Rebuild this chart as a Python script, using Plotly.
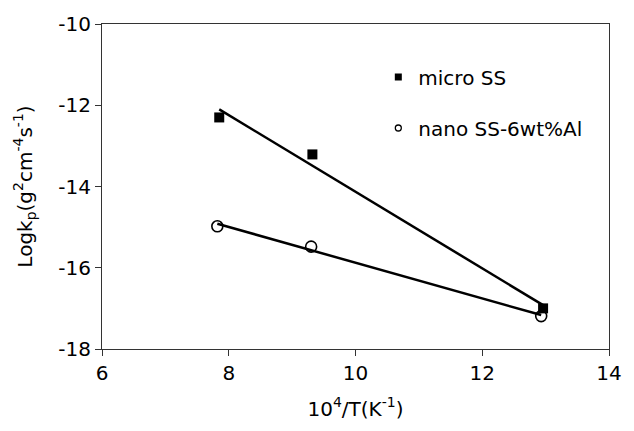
import numpy as np
import plotly.graph_objects as go

# Parabolic rate constants vs. inverse temperature
micro_x = [7.85, 9.32, 12.96]
micro_y = [-12.30, -13.21, -17.00]
nano_x = [7.82, 9.30, 12.93]
nano_y = [-14.98, -15.48, -17.19]

x_ticks = [6, 8, 10, 12, 14]
y_ticks = [-18, -16, -14, -12, -10]

FONT = "DejaVu Sans"


def fit_line(xs, ys):
    slope, icpt = np.polyfit(xs, ys, 1)
    xe = np.array([min(xs), max(xs)])
    return xe, slope * xe + icpt


fig = go.Figure()

for xs, ys in [(micro_x, micro_y), (nano_x, nano_y)]:
    lx, ly = fit_line(xs, ys)
    fig.add_trace(go.Scatter(x=lx, y=ly, mode="lines",
                             line=dict(color="black", width=2.5),
                             showlegend=False, hoverinfo="skip"))

fig.add_trace(go.Scatter(x=micro_x, y=micro_y, mode="markers",
                         marker=dict(symbol="square", size=10, color="black"),
                         showlegend=False))
fig.add_trace(go.Scatter(x=nano_x, y=nano_y, mode="markers",
                         marker=dict(symbol="circle-open", size=11, color="black",
                                     line=dict(width=1.6, color="black")),
                         showlegend=False))

# legend entries with smaller symbols
fig.add_trace(go.Scatter(x=[None], y=[None], mode="markers", name="micro SS",
                         legendgroup="a",
                         marker=dict(symbol="square", size=7, color="black")))
fig.add_trace(go.Scatter(x=[None], y=[None], mode="markers", name="nano SS-6wt%Al",
                         legendgroup="b",
                         marker=dict(symbol="circle-open", size=6, color="black",
                                     line=dict(width=1.3, color="black"))))

axis_common = dict(
    showline=True, linecolor="#333333", linewidth=1, mirror=True,
    showgrid=False, zeroline=False,
    ticks="outside", ticklen=6, tickwidth=1, tickcolor="#333333",
    tickfont=dict(family=FONT, size=20, color="black"),
)

fig.update_xaxes(range=[6, 14], tickvals=x_ticks,
                 ticktext=[str(v) for v in x_ticks],
                 title=dict(text="10<sup>4</sup>/T(K<sup>-1</sup>)",
                            font=dict(family=FONT, size=20, color="black"),
                            standoff=17),
                 **axis_common)
fig.update_yaxes(range=[-18, -10], tickvals=y_ticks,
                 ticktext=[str(v) for v in y_ticks],
                 title=dict(text="Logk<sub>p</sub>(g<sup>2</sup>cm<sup>-4</sup>s<sup>-1</sup>)",
                            font=dict(family=FONT, size=20, color="black"),
                            standoff=20),
                 **axis_common)

fig.update_layout(
    width=634, height=431,
    margin=dict(l=102, r=15, t=19, b=82),
    paper_bgcolor="white", plot_bgcolor="white",
    font=dict(family=FONT, color="black"),
    legend=dict(x=0.545, y=0.897, xanchor="left", yanchor="top",
                bgcolor="rgba(0,0,0,0)", borderwidth=0,
                tracegroupgap=22,
                font=dict(family=FONT, size=20, color="black")),
)

fig.write_html("out.html")
